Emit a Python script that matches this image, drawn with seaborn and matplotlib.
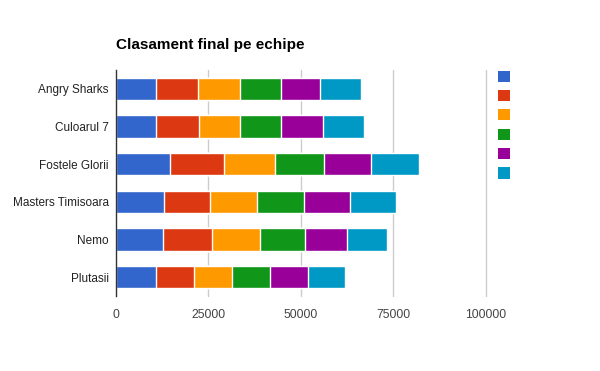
import numpy as np
import pandas as pd
import matplotlib
matplotlib.use('Agg')
import matplotlib.pyplot as plt
import seaborn as sns
from matplotlib.patches import Patch

# data
teams = ['Angry Sharks', 'Culoarul 7', 'Fostele Glorii', 'Masters Timisoara', 'Nemo', 'Plutasii']
series = ['Etapa 1', 'Etapa 2', 'Etapa 3', 'Etapa 4', 'Etapa 5', 'Etapa 6']
etapa1 = [10800, 10800, 14580, 12960, 12690, 10800]
etapa2 = [11340, 11610, 14580, 12420, 13230, 10260]
etapa3 = [11340, 11260, 13770, 12690, 12960, 10260]
etapa4 = [11070, 11070, 13230, 12690, 12150, 10260]
etapa5 = [10530, 11150, 12690, 12420, 11340, 10260]
etapa6 = [11260, 11260, 13150, 12610, 10990, 10180]
colors = ['#3366cc', '#dc3912', '#ff9900', '#109618', '#990099', '#0099c6']
xticks = [0, 25000, 50000, 75000, 100000]

df = pd.DataFrame({'team': teams, 'Etapa 1': etapa1, 'Etapa 2': etapa2, 'Etapa 3': etapa3,
                   'Etapa 4': etapa4, 'Etapa 5': etapa5, 'Etapa 6': etapa6})
cum = df[series].cumsum(axis=1)
cum['team'] = df['team']

sns.set_style('white')
plt.rcParams['font.family'] = ['Liberation Sans', 'DejaVu Sans']

fig = plt.figure(figsize=(6, 3.71), dpi=100)
ax = fig.add_axes([115.5 / 600, 1 - 296 / 371, (486 - 115.5) / 600, 226 / 371])

# stacked bars: draw cumulative totals from the last series backwards
for s, c in reversed(list(zip(series, colors))):
    sns.barplot(data=cum, x=s, y='team', order=teams, color=c, orient='h', saturation=1,
                width=0.6, edgecolor='white', linewidth=1, ax=ax, zorder=3)

ax.set_xlim(0, 100000)
ax.set_xticks(xticks)
ax.set_xticklabels([str(t) for t in xticks], color='#444444', fontsize=8.8)
ax.tick_params(axis='y', labelsize=8.5, labelcolor='#222222', length=0, pad=5)
ax.tick_params(axis='x', length=0, pad=9)
ax.set_xlabel('')
ax.set_ylabel('')
for t in xticks[1:]:
    ax.axvline(t, color='#cccccc', linewidth=1, zorder=1, clip_on=False)
for sp in ['top', 'right', 'bottom']:
    ax.spines[sp].set_visible(False)
ax.spines['left'].set_color('#333333')
ax.spines['left'].set_linewidth(1)
ax.spines['left'].set_zorder(4)

fig.text(116 / 600, 1 - 45 / 371, 'Clasament final pe echipe', fontsize=11,
         fontweight='bold', color='#000000', va='center', ha='left')

handles = [Patch(facecolor=c, edgecolor='none') for c in colors]
fig.legend(handles, [''] * 6, loc='upper left', bbox_to_anchor=(497.5 / 600, 1 - 70.5 / 371),
           frameon=False, handlelength=1.0, handleheight=1.0, handletextpad=0.2,
           labelspacing=0.52, fontsize=9, borderaxespad=0, borderpad=0)

fig.savefig('out.png', dpi=100)
